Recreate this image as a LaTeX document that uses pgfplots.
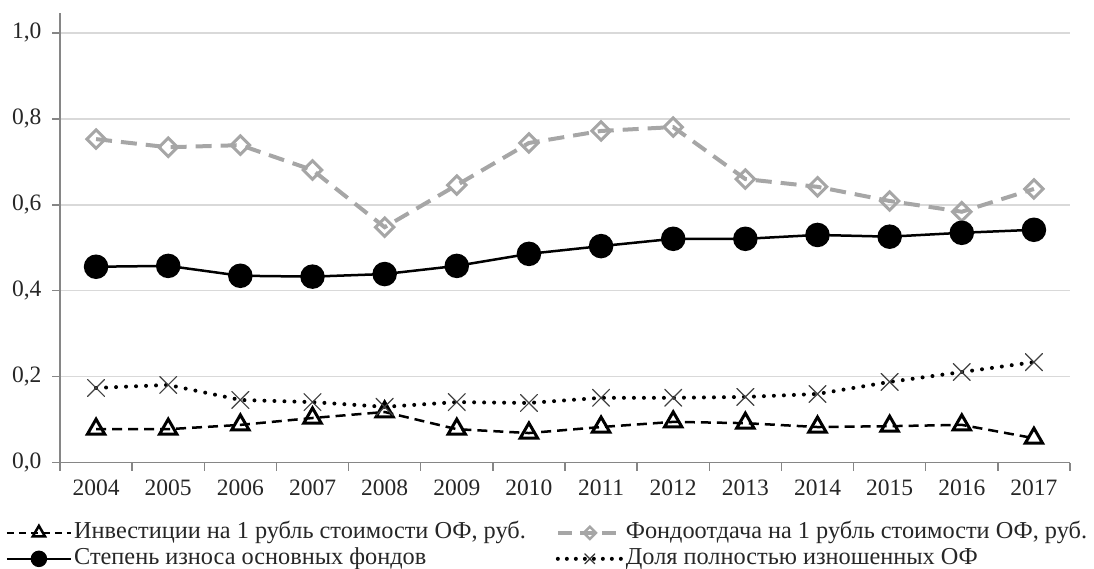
\documentclass[border=0pt]{standalone}
\usepackage{pgfplots}
\pgfplotsset{compat=1.18}
\usepackage{fontspec}
\setmainfont{Liberation Serif}
\definecolor{lgray}{RGB}{166,166,166}
\definecolor{gridc}{RGB}{217,217,217}
\definecolor{axc}{RGB}{134,134,134}
\begin{document}
\begin{tikzpicture}[x=1pt,y=1pt]
\useasboundingbox (0,0) rectangle (1094,568);
\begin{axis}[
 at={(60pt,105.3pt)}, anchor=south west,
 scale only axis, width=1010pt, height=449.5pt,
 xmin=-0.5, xmax=13.5, ymin=0, ymax=1.046,
 axis x line*=bottom, axis y line*=left,
 axis line style={axc, line width=1.3pt, -},
 xtick={-0.5,0.5,...,13.5},
 x tick label as interval,
 xticklabels={2004,2005,2006,2007,2008,2009,2010,2011,2012,2013,2014,2015,2016,2017},
 ytick={0,0.2,0.4,0.6,0.8,1.0},
 yticklabel style={xshift=-7pt, /pgf/number format/.cd, fixed, fixed zerofill, precision=1, use comma},
 /pgf/number format/assume math mode=true,
 tick label style={font=\fontsize{23.5}{26}\selectfont, text=black!85},
 xticklabel style={yshift=-6pt},
 tick align=outside, major tick length=8pt,
 tick style={axc, line width=1.3pt},
 ymajorgrids, grid style={gridc, line width=1.3pt},
 legend columns=2,
 legend cell align=left,
 legend style={draw=none, fill=none, at={(-0.054,-0.130)}, anchor=north west,
   font=\fontsize{24.3}{27}\selectfont, text=black!85, inner sep=0pt, row sep=3pt,
   nodes={text height=15pt, text depth=4pt},
   /tikz/every even column/.append style={column sep=28pt}},
 legend image code/.code={\draw[mark repeat=2,mark phase=2,#1] plot coordinates {(0pt,0pt) (32pt,0pt) (64pt,0pt)};},
]
\addplot[forget plot, black, line width=2.5pt, dash pattern=on 10pt off 6pt,
  mark=triangle, mark size=10pt, mark options={solid, line width=3pt, fill=white}]
 coordinates {(0,0.078) (1,0.078) (2,0.088) (3,0.104) (4,0.118) (5,0.078) (6,0.069) (7,0.083) (8,0.095) (9,0.092) (10,0.083) (11,0.085) (12,0.088) (13,0.057)};
\addplot[forget plot, lgray, line width=4pt, dash pattern=on 16pt off 9pt,
  mark=square, mark size=6.5pt, mark options={solid, rotate=45, line width=3pt, fill=white}]
 coordinates {(0,0.753) (1,0.734) (2,0.739) (3,0.681) (4,0.548) (5,0.646) (6,0.744) (7,0.772) (8,0.781) (9,0.660) (10,0.642) (11,0.609) (12,0.584) (13,0.637)};
\addplot[forget plot, black, line width=2.5pt, mark=*, mark size=11pt]
 coordinates {(0,0.456) (1,0.458) (2,0.435) (3,0.433) (4,0.439) (5,0.458) (6,0.486) (7,0.504) (8,0.521) (9,0.521) (10,0.530) (11,0.526) (12,0.535) (13,0.542)};
\addplot[forget plot, black, line width=4pt, dash pattern=on 0pt off 10pt, line cap=round,
  mark=x, mark size=12pt, mark options={solid, line width=1.2pt, black!75}]
 coordinates {(0,0.174) (1,0.181) (2,0.146) (3,0.141) (4,0.130) (5,0.141) (6,0.139) (7,0.151) (8,0.151) (9,0.153) (10,0.160) (11,0.188) (12,0.211) (13,0.234)};
\addlegendimage{black, line width=2.5pt, dash pattern=on 7pt off 5pt, mark=triangle, mark size=7pt, mark options={solid, line width=2.5pt, fill=white}}
\addlegendentry{Инвестиции на 1 рубль стоимости ОФ, руб.}
\addlegendimage{lgray, line width=4pt, dash pattern=on 14pt off 8pt, mark=square, mark size=4.3pt, mark options={solid, rotate=45, line width=2.5pt, fill=white}}
\addlegendentry{Фондоотдача на 1 рубль стоимости ОФ, руб.}
\addlegendimage{black, line width=2.5pt, mark=*, mark size=7pt}
\addlegendentry{Степень износа основных фондов}
\addlegendimage{black, line width=4pt, dash pattern=on 0pt off 9pt, line cap=round, mark=x, mark size=7pt, mark options={solid, line width=1.2pt, black!80}}
\addlegendentry{Доля полностью изношенных ОФ}
\end{axis}
\end{tikzpicture}
\end{document}
